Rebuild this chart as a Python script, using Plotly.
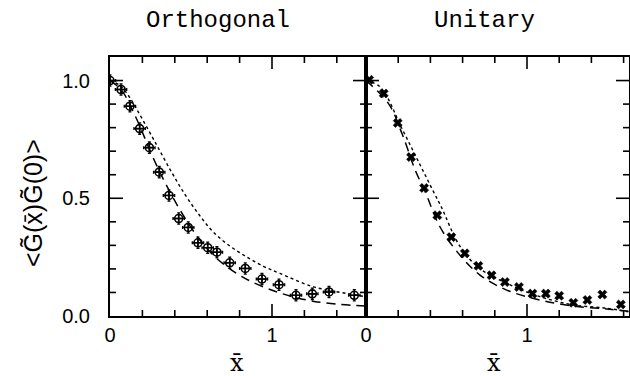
import numpy as np
import plotly.graph_objects as go

# ---------------- data ----------------
orth_x = [0.0, 0.068, 0.123, 0.183, 0.243, 0.304, 0.364, 0.424, 0.483, 0.543, 0.603,
          0.66, 0.739, 0.835, 0.938, 1.043, 1.148, 1.249, 1.352, 1.508]
orth_y = [1.0, 0.962, 0.891, 0.796, 0.715, 0.611, 0.512, 0.414, 0.376, 0.311, 0.29,
          0.271, 0.226, 0.202, 0.157, 0.133, 0.088, 0.094, 0.102, 0.088]
orth_dot_x = [0.0, 0.062, 0.12, 0.175, 0.278, 0.38, 0.463, 0.55, 0.64, 0.744, 0.844, 0.95, 1.049, 1.255, 1.46, 1.58]
orth_dot_y = [1.0, 0.979, 0.93, 0.866, 0.739, 0.611, 0.516, 0.43, 0.355, 0.295, 0.251, 0.21, 0.181, 0.124, 0.096, 0.082]
orth_dash_x = [0.0, 0.07, 0.154, 0.278, 0.36, 0.45, 0.556, 0.658, 0.82, 1.04, 1.26, 1.58]
orth_dash_y = [1.0, 0.96, 0.852, 0.654, 0.54, 0.43, 0.322, 0.245, 0.165, 0.1, 0.062, 0.042]

uni_x = [0.02, 0.11, 0.197, 0.28, 0.361, 0.443, 0.53, 0.614, 0.698, 0.78, 0.863,
         0.95, 1.034, 1.117, 1.2, 1.288, 1.375, 1.468, 1.583]
uni_y = [1.003, 0.945, 0.82, 0.675, 0.544, 0.428, 0.335, 0.266, 0.213, 0.173, 0.144,
         0.123, 0.095, 0.095, 0.086, 0.056, 0.068, 0.091, 0.049]
uni_dot_x = [0.0, 0.089, 0.224, 0.327, 0.42, 0.47, 0.58, 0.70, 0.874, 1.081, 1.288, 1.495, 1.63]
uni_dot_y = [1.0, 0.972, 0.795, 0.654, 0.527, 0.46, 0.30, 0.205, 0.139, 0.082, 0.047, 0.033, 0.018]
uni_dash_x = [0.0, 0.141, 0.224, 0.306, 0.368, 0.46, 0.584, 0.708, 0.874, 1.08, 1.288, 1.495, 1.63]
uni_dash_y = [1.0, 0.901, 0.774, 0.619, 0.527, 0.378, 0.258, 0.174, 0.11, 0.068, 0.042, 0.03, 0.02]

titles = ["Orthogonal", "Unitary"]
x_tickvals = [0, 1]
x_ticktext = ["0", "1"]
y_tickvals = [0.0, 0.5, 1.0]
y_ticktext = ["0.0", "0.5", "1.0"]
y_label = "<G\u0303(x\u0304)G\u0303(0)>"
x_label = "x\u0304"

# ---------------- figure ----------------
W, H = 630, 376
L0, L1, R1 = 110, 366, 629
T, B = 57, 316
XMAX1 = (L1 - L0) / 162.0
XMAX2 = (R1 - L1) / 161.0
YMAX = 1.1

fig = go.Figure()

# tick marks drawn as line segments in data units of each panel (inside ticks on all sides)
def tick_segments(xmax, px_w):
    xpp = xmax / px_w            # data units per pixel, x
    ypp = YMAX / (B - T)         # data units per pixel, y
    xs, ys = [], []
    for v in np.arange(0.2, xmax - 1e-6, 0.2):
        v = float(round(v, 3))
        ln = 12 if abs(v - round(v)) < 1e-6 else 6
        d = ln * ypp
        xs += [v, v, None, v, v, None]
        ys += [0.0, d, None, YMAX, YMAX - d, None]
    for v in np.arange(0.1, YMAX - 1e-6, 0.1):
        v = float(round(v, 3))
        ln = 13 if abs(v * 2 - round(v * 2)) < 1e-6 else 6
        d = ln * xpp
        xs += [0.0, d, None, xmax, xmax - d, None]
        ys += [v, v, None, v, v, None]
    return xs, ys

tx1, ty1 = tick_segments(XMAX1, L1 - L0)
tx2, ty2 = tick_segments(XMAX2, R1 - L1)
fig.add_trace(go.Scatter(x=tx1, y=ty1, mode="lines", line=dict(color="black", width=1.6),
                         xaxis="x", yaxis="y", hoverinfo="skip"))
fig.add_trace(go.Scatter(x=tx2, y=ty2, mode="lines", line=dict(color="black", width=1.6),
                         xaxis="x2", yaxis="y2", hoverinfo="skip"))

fig.add_trace(go.Scatter(x=orth_dot_x, y=orth_dot_y, mode="lines", line_shape="spline",
                         line=dict(color="black", width=1.4, dash="dot"), xaxis="x", yaxis="y"))
fig.add_trace(go.Scatter(x=orth_dash_x, y=orth_dash_y, mode="lines", line_shape="spline",
                         line=dict(color="black", width=1.5, dash="9px,6px"), xaxis="x", yaxis="y"))
fig.add_trace(go.Scatter(x=uni_dot_x, y=uni_dot_y, mode="lines", line_shape="spline",
                         line=dict(color="black", width=1.4, dash="dot"), xaxis="x2", yaxis="y2"))
fig.add_trace(go.Scatter(x=uni_dash_x, y=uni_dash_y, mode="lines", line_shape="spline",
                         line=dict(color="black", width=1.5, dash="9px,6px"), xaxis="x2", yaxis="y2"))
fig.add_trace(go.Scatter(x=uni_x, y=uni_y, mode="markers", xaxis="x2", yaxis="y2",
                         marker=dict(symbol="x", size=8, color="black",
                                     line=dict(width=0.6, color="black"))))
fig.add_trace(go.Scatter(x=orth_x, y=orth_y, mode="markers", xaxis="x", yaxis="y",
                         marker=dict(symbol="circle-cross-open", size=8, color="black",
                                     line=dict(width=1.6, color="black")),
                         error_x=dict(type="constant", value=0.035, width=1.5, thickness=1.3, color="black"),
                         error_y=dict(type="constant", value=0.024, width=1.5, thickness=1.3, color="black")))

tickfont = dict(family="Liberation Sans, Arial, sans-serif", size=20, color="black")

def common():
    return dict(showgrid=False, zeroline=False, automargin=False,
                showline=True, linecolor="black", linewidth=2, mirror=True,
                tickfont=tickfont)

fig.update_layout(
    width=W, height=H,
    margin=dict(l=0, r=0, t=0, b=0),
    paper_bgcolor="white", plot_bgcolor="white",
    showlegend=False,
    xaxis=dict(domain=[L0 / W, L1 / W], range=[0, XMAX1], anchor="y",
               tickvals=x_tickvals, ticktext=x_ticktext, ticks="", **common()),
    yaxis=dict(domain=[(H - B) / H, (H - T) / H], range=[0, YMAX], anchor="x",
               tickvals=y_tickvals, ticktext=y_ticktext,
               ticks="outside", ticklen=14, tickcolor="rgba(0,0,0,0)", **common()),
    xaxis2=dict(domain=[L1 / W, R1 / W], range=[0, XMAX2], anchor="y2",
                tickvals=x_tickvals, ticktext=x_ticktext, ticks="", **common()),
    yaxis2=dict(domain=[(H - B) / H, (H - T) / H], range=[0, YMAX], anchor="x2",
                tickvals=y_tickvals, showticklabels=False, ticks="", **common()),
)

ann = []
title_font = dict(family="Liberation Mono, Courier New, monospace", size=24, color="black")
ann.append(dict(text=titles[0], x=218 / W, y=1 - 20 / H, xref="paper", yref="paper",
                showarrow=False, font=title_font, xanchor="center", yanchor="middle"))
ann.append(dict(text=titles[1], x=484 / W, y=1 - 20 / H, xref="paper", yref="paper",
                showarrow=False, font=title_font, xanchor="center", yanchor="middle"))
xl_font = dict(family="DejaVu Serif, Liberation Serif, serif", size=24, color="black")
for xp in (237, 494):
    ann.append(dict(text=x_label, x=xp / W, y=1 - 363 / H, xref="paper", yref="paper",
                    showarrow=False, font=xl_font, xanchor="center", yanchor="middle"))
ann.append(dict(text=y_label, x=33 / W, y=1 - 203 / H, xref="paper", yref="paper",
                showarrow=False, textangle=-90,
                font=dict(family="Liberation Sans, Arial, sans-serif", size=25, color="black"),
                xanchor="center", yanchor="middle"))
fig.update_layout(annotations=ann)

fig.write_html(
    "out.html",
    config={"displayModeBar": False},
    post_script="document.body.style.margin='0';document.documentElement.style.overflow='hidden';document.body.style.overflow='hidden';",
)
